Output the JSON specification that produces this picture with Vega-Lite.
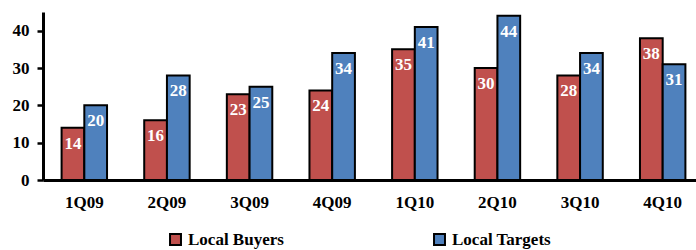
{
  "$schema": "https://vega.github.io/schema/vega-lite/v6.json",
  "autosize": {"type": "none"},
  "padding": {"left": 43, "top": 12, "right": 0, "bottom": 70},
  "width": 661,
  "height": 168,
  "background": "white",
  "config": {
    "view": {"stroke": null},
    "font": "Liberation Serif",
    "axis": {"grid": false, "labelFont": "Liberation Serif", "labelFontWeight": "bold", "labelColor": "black", "labelFontSize": 17, "domainColor": "black", "tickColor": "black", "title": null}
  },
  "data": {
    "values": [
      {"q": "1Q09", "s": "Local Buyers", "v": 14},
      {"q": "1Q09", "s": "Local Targets", "v": 20},
      {"q": "2Q09", "s": "Local Buyers", "v": 16},
      {"q": "2Q09", "s": "Local Targets", "v": 28},
      {"q": "3Q09", "s": "Local Buyers", "v": 23},
      {"q": "3Q09", "s": "Local Targets", "v": 25},
      {"q": "4Q09", "s": "Local Buyers", "v": 24},
      {"q": "4Q09", "s": "Local Targets", "v": 34},
      {"q": "1Q10", "s": "Local Buyers", "v": 35},
      {"q": "1Q10", "s": "Local Targets", "v": 41},
      {"q": "2Q10", "s": "Local Buyers", "v": 30},
      {"q": "2Q10", "s": "Local Targets", "v": 44},
      {"q": "3Q10", "s": "Local Buyers", "v": 28},
      {"q": "3Q10", "s": "Local Targets", "v": 34},
      {"q": "4Q10", "s": "Local Buyers", "v": 38},
      {"q": "4Q10", "s": "Local Targets", "v": 31}
    ]
  },
  "encoding": {
    "x": {
      "field": "q", "type": "nominal", "sort": null,
      "scale": {"paddingInner": 0.45, "paddingOuter": 0.225},
      "axis": {"labelAngle": 0, "ticks": false, "domainWidth": 3, "labelPadding": 14}
    },
    "xOffset": {"field": "s", "type": "nominal", "scale": {"padding": 0}},
    "y": {
      "field": "v", "type": "quantitative",
      "scale": {"domain": [0, 45], "nice": false},
      "axis": {"values": [0, 10, 20, 30, 40], "domainWidth": 3, "tickWidth": 2.5, "tickSize": 6, "labelPadding": 8}
    }
  },
  "layer": [
    {
      "mark": {"type": "bar", "stroke": "black", "strokeWidth": 2},
      "encoding": {
        "color": {
          "field": "s", "type": "nominal",
          "scale": {"domain": ["Local Buyers", "Local Targets"], "range": ["#C0504D", "#4F81BD"]},
          "legend": {
            "title": null, "orient": "none", "direction": "horizontal",
            "legendX": 124, "legendY": 219, "columnPadding": 146,
            "symbolType": "square", "symbolSize": 120, "symbolStrokeColor": "black", "symbolStrokeWidth": 2, "symbolOpacity": 1,
            "labelFont": "Liberation Serif", "labelFontWeight": "bold", "labelFontSize": 17, "labelColor": "black", "labelOffset": 4
          }
        }
      }
    },
    {
      "mark": {"type": "text", "color": "white", "fontWeight": "bold", "fontSize": 17, "font": "Liberation Serif", "baseline": "alphabetic", "dy": 21},
      "encoding": {"text": {"field": "v", "type": "quantitative"}}
    }
  ]
}
